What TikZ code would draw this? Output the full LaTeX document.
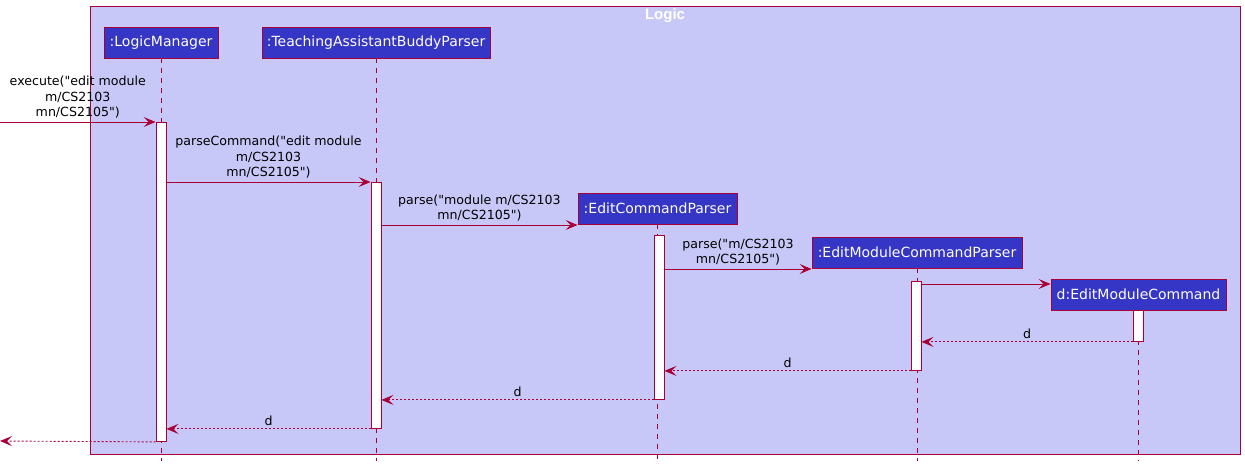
\documentclass[tikz,border=0pt]{standalone}
\usepackage{fontspec}
\setmainfont{DejaVu Sans}[Ligatures=TeXOff]
\newfontfamily\titlefont{Liberation Sans}
\usetikzlibrary{arrows.meta}
\definecolor{umlred}{HTML}{A80036}
\definecolor{umlhead}{HTML}{3535C6}
\definecolor{framebg}{HTML}{C8C8F8}
\newcommand{\headfont}{\fontsize{14}{16}\selectfont}
\newcommand{\msgfont}{\fontsize{12.6}{15.5}\selectfont}
\begin{document}
\begin{tikzpicture}[x=1pt,y=-1pt,
  head/.style={draw=umlred, fill=umlhead, text=white, line width=0.9pt,
    inner sep=0pt, minimum height=31pt, font=\headfont},
  life/.style={draw=umlred, line width=0.8pt, dash pattern=on 5pt off 5pt},
  act/.style={draw=umlred, fill=white, line width=0.9pt, inner sep=0pt,
    minimum width=10pt, anchor=north},
  call/.style={draw=umlred, line width=0.9pt,
    -{Stealth[length=12pt,width=10pt,inset=5pt]}},
  ret/.style={call, dash pattern=on 2pt off 2pt},
  lbl/.style={font=\msgfont, text=black, align=center, inner sep=3pt}]
\useasboundingbox (0,0) rectangle (1245,466);

% frame of the Logic component
\node[draw=umlred, fill=framebg, line width=1pt, anchor=north west,
  minimum width=1150pt, minimum height=448pt, inner sep=0pt] (frame) at (90,6) {};
\node[text=white, font=\titlefont\bfseries\fontsize{15}{17}\selectfont] (title) at (665,16) {Logic};

% participants
\node[head, minimum width=114pt] (lm) at (161,42.5) {:LogicManager};
\node[head, minimum width=228pt] (ta) at (376,42.5) {:TeachingAssistantBuddyParser};
\node[head, minimum width=159pt] (ecp) at (657.5,208.5) {:EditCommandParser};
\node[head, minimum width=210pt] (emcp) at (917,252.5) {:EditModuleCommandParser};
\node[head, minimum width=175pt] (emc) at (1138.5,294.5) {d:EditModuleCommand};

% lifelines
\coordinate (bottom) at (0,461);
\foreach \p in {lm,ta,ecp,emcp,emc}
  \draw[life] (\p.south) -- (\p.south |- bottom);

% activations
\node[act, minimum height=319pt] (aLM) at (161,122) {};
\node[act, minimum height=246pt] (aTA) at (376,182) {};
\node[act, minimum height=164pt] (aECP) at (659,235) {};
\node[act, minimum height=89pt] (aEMCP) at (916,281) {};
\node[act, minimum height=31pt] (aEMC) at (1138,310) {};

% calls
\coordinate (src) at (0,122);
\coordinate (sink) at (0,441);
\draw[call] (src) -- (aLM.north west)
  node[lbl, midway, above] {execute("edit module\\m/CS2103\\mn/CS2105")};
\draw[call] (aLM.east |- aTA.north) -- (aTA.north west)
  node[lbl, midway, above] {parseCommand("edit module\\m/CS2103\\mn/CS2105")};
\draw[call] (aTA.east |- 0,225) -- (ecp.west |- 0,225)
  node[lbl, midway, above] {parse("module m/CS2103\\mn/CS2105")};
\draw[call] (aECP.east |- 0,269) -- (emcp.west |- 0,269)
  node[lbl, midway, above] {parse("m/CS2103\\mn/CS2105")};
\draw[call] (aEMCP.east |- 0,284) -- (emc.west |- 0,284);

% returns
\draw[ret] (aEMC.south west) -- (aEMCP.east |- aEMC.south)
  node[lbl, midway, above] {d};
\draw[ret] (aEMCP.south west) -- (aECP.east |- aEMCP.south)
  node[lbl, midway, above] {d};
\draw[ret] (aECP.south west) -- (aTA.east |- aECP.south)
  node[lbl, midway, above] {d};
\draw[ret] (aTA.south west) -- (aLM.east |- aTA.south)
  node[lbl, midway, above] {d};
\draw[ret] (aLM.south west) -- (sink);
\end{tikzpicture}
\end{document}
